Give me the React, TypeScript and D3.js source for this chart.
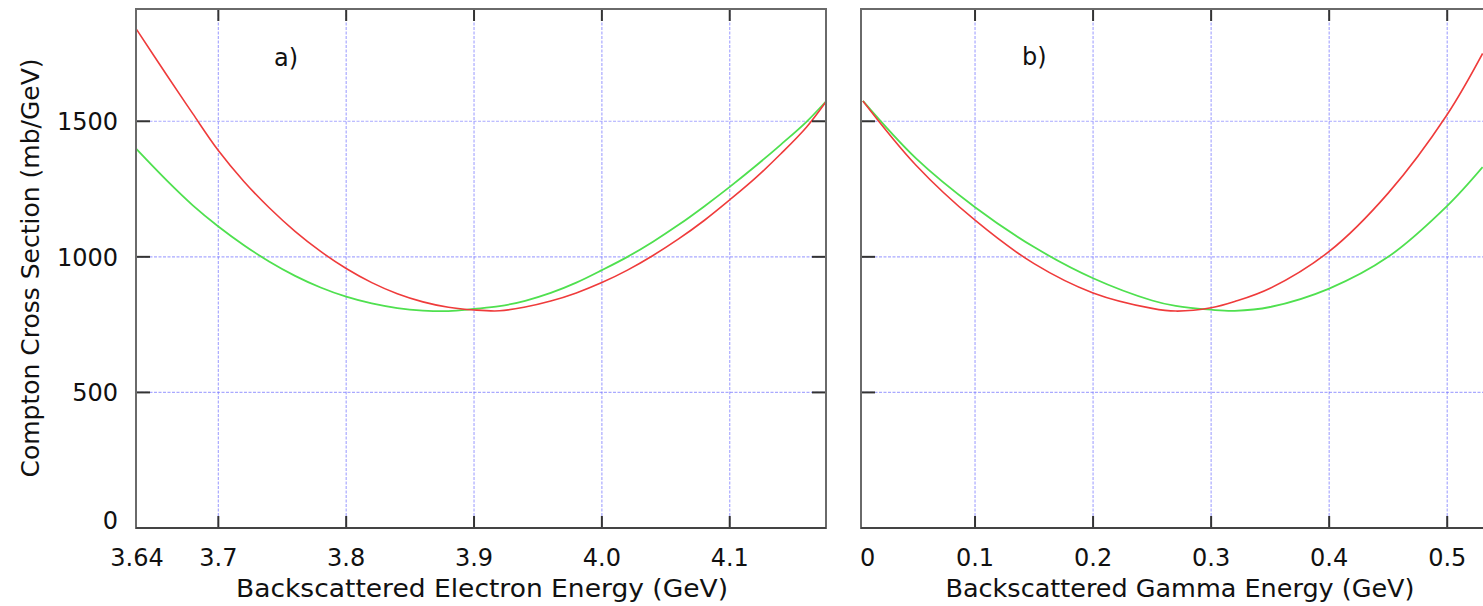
import React from 'react';
import * as d3 from 'd3';

// Panel a: backscattered electron energy (GeV)
const electronEnergy = [3.636, 3.66, 3.68, 3.70, 3.72, 3.74, 3.76, 3.78, 3.80, 3.82, 3.84, 3.86, 3.88, 3.90, 3.92, 3.94, 3.96, 3.98, 4.00, 4.02, 4.04, 4.06, 4.08, 4.10, 4.12, 4.14, 4.16, 4.175];
const electronRed = [1839, 1668, 1528, 1392, 1278, 1180, 1094, 1020, 957, 905, 864, 834, 814, 804, 801, 815, 837, 867, 905, 951, 1005, 1066, 1134, 1210, 1290, 1380, 1478, 1570];
const electronGreen = [1397, 1280, 1190, 1112, 1043, 982, 930, 887, 853, 828, 811, 802, 800, 808, 818, 838, 867, 905, 951, 1000, 1056, 1118, 1186, 1258, 1334, 1414, 1498, 1572];

// Panel b: backscattered gamma energy (GeV)
const gammaEnergy = [0.005, 0.05, 0.10, 0.15, 0.20, 0.25, 0.27, 0.30, 0.32, 0.35, 0.40, 0.45, 0.50, 0.53];
const gammaRed = [1575, 1338, 1135, 975, 867, 810, 800, 812, 835, 884, 1020, 1235, 1525, 1750];
const gammaGreen = [1575, 1363, 1183, 1036, 921, 839, 819, 805, 801, 815, 883, 1000, 1188, 1331];

const yTicks = [0, 500, 1000, 1500];
const yTickLabels = ['0', '500', '1000', '1500'];
const xTicksA = [3.7, 3.8, 3.9, 4.0, 4.1];
const xTickLabelsA = ['3.64', '3.7', '3.8', '3.9', '4.0', '4.1'];
const xTicksB = [0.1, 0.2, 0.3, 0.4, 0.5];
const xTickLabelsB = ['0', '0.1', '0.2', '0.3', '0.4', '0.5'];

const FONT = "'DejaVu Sans', sans-serif";
const RED = '#ef3b3b';
const GREEN = '#4fe04f';
const GRID = '#6f6fff';

export default function App() {
  const top = 9, bottom = 528;
  const y = d3.scaleLinear().domain([0, 1914]).range([bottom, top]);
  const aL = 136, aR = 826;
  const xA = d3.scaleLinear().domain([3.6356, 4.1753]).range([aL, aR]);
  const bL = 861, bR = 1487;
  const xB = d3.scaleLinear().domain([0.0034, 0.5337]).range([bL, bR]);

  const lineA = (vals: number[]) =>
    d3.line<number>().x((_, i) => xA(electronEnergy[i])).y((d) => y(d)).curve(d3.curveCatmullRom.alpha(0.5))(vals) || '';
  const lineB = (vals: number[]) =>
    d3.line<number>().x((_, i) => xB(gammaEnergy[i])).y((d) => y(d)).curve(d3.curveCatmullRom.alpha(0.5))(vals) || '';

  const grid = (x: d3.ScaleLinear<number, number>, xt: number[], L: number, R: number) => (
    <g stroke={GRID} strokeOpacity={0.6} strokeWidth={1.2} strokeDasharray="3,1.5">
      {xt.map((t) => (
        <line key={'v' + t} x1={x(t)} x2={x(t)} y1={top} y2={bottom} />
      ))}
      {yTicks.filter((t) => t > 0).map((t) => (
        <line key={'h' + t} x1={L} x2={R} y1={y(t)} y2={y(t)} />
      ))}
    </g>
  );

  const ticks = (x: d3.ScaleLinear<number, number>, xt: number[], L: number, R: number, rightTicks: boolean) => (
    <g stroke="#333" strokeWidth={2}>
      {xt.map((t) => (
        <g key={'t' + t}>
          <line x1={x(t)} x2={x(t)} y1={bottom} y2={bottom - 12} />
          <line x1={x(t)} x2={x(t)} y1={top} y2={top + 12} />
        </g>
      ))}
      {yTicks.map((t) => (
        <g key={'y' + t}>
          <line x1={L} x2={L + 14} y1={y(t)} y2={y(t)} />
          {rightTicks && <line x1={R} x2={R - 14} y1={y(t)} y2={y(t)} />}
        </g>
      ))}
    </g>
  );

  return (
    <svg width={1483} height={606} style={{ position: 'absolute', left: 0, top: 0, background: '#fff' }}>
      <rect x={0} y={0} width={1483} height={606} fill="#fff" />
      {/* Panel a */}
      {grid(xA, xTicksA, aL, aR)}
      <path d={lineA(electronGreen)} fill="none" stroke={GREEN} strokeWidth={1.8} />
      <path d={lineA(electronRed)} fill="none" stroke={RED} strokeWidth={1.6} />
      {ticks(xA, xTicksA, aL, aR, true)}
      <rect x={aL} y={top} width={aR - aL} height={bottom - top} fill="none" stroke="#6a6a6a" strokeWidth={2} />
      <line x1={aL} x2={aR} y1={bottom} y2={bottom} stroke="#444" strokeWidth={2} />

      {/* Panel b */}
      {grid(xB, xTicksB, bL, bR)}
      <path d={lineB(gammaGreen)} fill="none" stroke={GREEN} strokeWidth={1.8} />
      <path d={lineB(gammaRed)} fill="none" stroke={RED} strokeWidth={1.6} />
      {ticks(xB, xTicksB, bL, bR, false)}
      <rect x={bL} y={top} width={bR - bL} height={bottom - top} fill="none" stroke="#6a6a6a" strokeWidth={2} />
      <line x1={bL} x2={bR} y1={bottom} y2={bottom} stroke="#444" strokeWidth={2} />

      {/* Labels */}
      <g fontFamily={FONT} fontSize={24} fill="#111">
        {yTicks.map((t, i) => (
          <text key={'yl' + t} x={118} y={Math.min(y(t) + 8.7, 529)} textAnchor="end">
            {yTickLabels[i]}
          </text>
        ))}
        {[xA.domain()[0], ...xTicksA].map((t, i) => (
          <text key={'xa' + i} x={i === 0 ? aL + 1 : xA(t)} y={566} textAnchor="middle">
            {xTickLabelsA[i]}
          </text>
        ))}
        {[0, ...xTicksB].map((t, i) => (
          <text key={'xb' + i} x={i === 0 ? bL - 1 : xB(t)} y={566} textAnchor={i === 0 ? 'start' : 'middle'}>
            {xTickLabelsB[i]}
          </text>
        ))}
        <text x={274} y={66}>a)</text>
        <text x={1022} y={65}>b)</text>
      </g>
      <g fontFamily={FONT} fontSize={25} fill="#111">
        <text x={482} y={597} textAnchor="middle" textLength={492} lengthAdjust="spacingAndGlyphs">
          Backscattered Electron Energy (GeV)
        </text>
        <text x={1180} y={597} textAnchor="middle" textLength={469} lengthAdjust="spacingAndGlyphs">
          Backscattered Gamma Energy (GeV)
        </text>
        <text transform="translate(39,268) rotate(-90)" textAnchor="middle" textLength={419} lengthAdjust="spacingAndGlyphs">
          Compton Cross Section (mb/GeV)
        </text>
      </g>
    </svg>
  );
}
